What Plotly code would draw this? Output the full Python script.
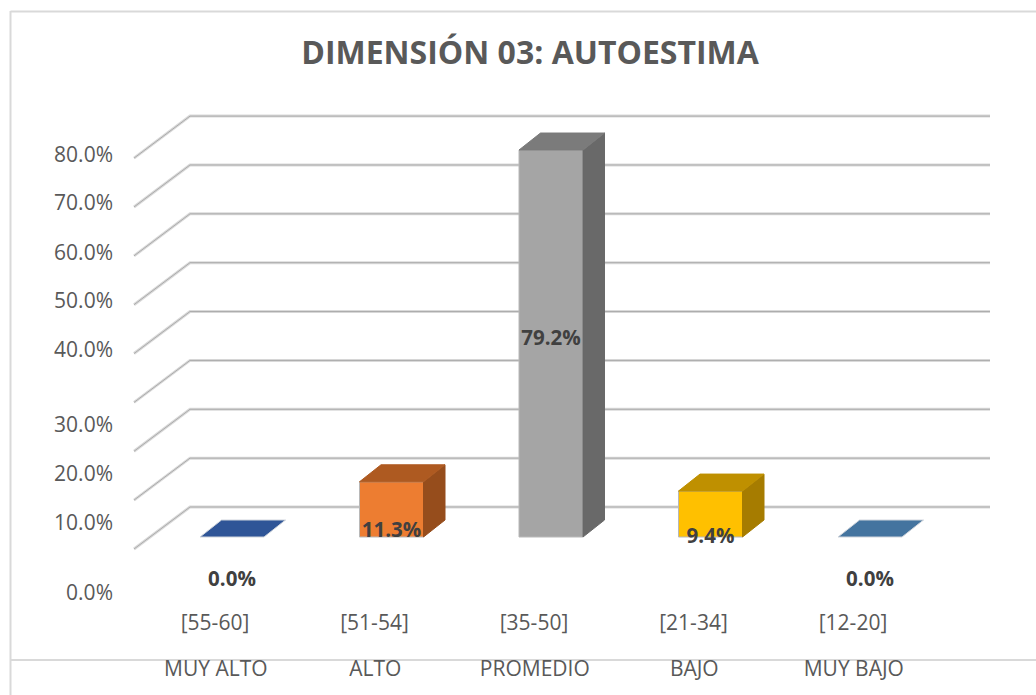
import plotly.graph_objects as go

# ---- data ----
categories = ["MUY ALTO", "ALTO", "PROMEDIO", "BAJO", "MUY BAJO"]
ranges = ["[55-60]", "[51-54]", "[35-50]", "[21-34]", "[12-20]"]
values = [0.0, 11.3, 79.2, 9.4, 0.0]
value_labels = ["0.0%", "11.3%", "79.2%", "9.4%", "0.0%"]
grid_values = [0, 10, 20, 30, 40, 50, 60, 70, 80]
tick_labels = ["80.0%", "70.0%", "60.0%", "50.0%", "40.0%", "30.0%", "20.0%", "10.0%", "0.0%"]

# ---- placement of labels (in axis units) ----
tick_label_y = [77.9, 67.9, 57.8, 48.0, 38.0, 22.6, 12.6, 2.6, -11.75]
value_label_y = [-9.0, 1.03, 40.3, -0.2, -9.0]

# ---- styling ----
front_colors = ["#2F5597", "#ED7D31", "#A5A5A5", "#FFC000", "#44749F"]
top_colors = ["#2F5597", "#AE5A21", "#7B7B7B", "#BF9000", "#44749F"]
side_colors = ["#2F5597", "#964D1C", "#696969", "#A67C00", "#44749F"]

W, H = 1036, 695
X_UNIT, X0 = 159.5, 232.0   # pixels per category, pixel of first category
Y_UNIT, Y0 = 4.886, 537.0   # pixels per percent, pixel of value 0
BAR_W = 64 / X_UNIT
DX, DY = 21.5 / X_UNIT, 17 / Y_UNIT        # bar depth
WALL_X0, WALL_X1 = (190 - X0) / X_UNIT, (990 - X0) / X_UNIT
WALL_DX = 56 / X_UNIT
WALL_BACK = 30 / Y_UNIT
WALL_FRONT = -12 / Y_UNIT

fig = go.Figure()


def poly(xs, ys, fill, edge):
    fig.add_trace(go.Scatter(
        x=xs + xs[:1], y=ys + ys[:1], mode="lines", fill="toself",
        fillcolor=fill, line=dict(color=edge, width=1), hoverinfo="skip"))


def grid(xs, ys, color, width):
    fig.add_trace(go.Scatter(x=xs, y=ys, mode="lines",
                             line=dict(color=color, width=width), hoverinfo="skip"))


for v in grid_values:
    xs = [WALL_X0 - WALL_DX, WALL_X0, WALL_X1]
    ys = [v + WALL_FRONT, v + WALL_BACK, v + WALL_BACK]
    grid(xs, ys, "#DADADA", 3)
    grid(xs, ys, "#ABABAB", 1)

for i, v in enumerate(values):
    x0, x1 = i - BAR_W / 2, i + BAR_W / 2
    if v > 0:
        poly([x0, x1, x1, x0], [0, 0, v, v], front_colors[i], "#B8B8B8")
        poly([x1, x1 + DX, x1 + DX, x1], [0, DY, v + DY, v], side_colors[i], side_colors[i])
    poly([x0, x1, x1 + DX, x0 + DX], [v, v, v + DY, v + DY], top_colors[i], "#D0D5DC" if v == 0 else top_colors[i])

font = "Open Sans"
fig.add_trace(go.Scatter(
    x=list(range(len(values))), y=value_label_y,
    text=value_labels, mode="text", textposition="middle center",
    textfont=dict(family=font, size=20.5, color="#404040", weight="bold"), hoverinfo="skip"))
fig.add_trace(go.Scatter(
    x=[(113 - X0) / X_UNIT] * len(tick_labels), y=tick_label_y, text=tick_labels,
    mode="text", textposition="middle left",
    textfont=dict(family=font, size=21, color="#595959"), hoverinfo="skip"))
fig.add_trace(go.Scatter(
    x=[i - 17 / X_UNIT for i in range(len(ranges))], y=[(Y0 - 625) / Y_UNIT] * len(ranges),
    text=ranges, mode="text", textposition="middle center",
    textfont=dict(family=font, size=21, color="#595959"), hoverinfo="skip"))
fig.add_trace(go.Scatter(
    x=[i - 17 / X_UNIT + 0.005 for i in range(len(categories))], y=[(Y0 - 671) / Y_UNIT] * len(categories),
    text=categories, mode="text", textposition="middle center",
    textfont=dict(family=font, size=21, color="#595959"), hoverinfo="skip"))

frame = dict(color="#D9D9D9", width=2)
fig.update_layout(
    width=W, height=H, autosize=False,
    margin=dict(l=0, r=0, t=0, b=0),
    paper_bgcolor="white", plot_bgcolor="rgba(0,0,0,0)", showlegend=False,
    title=dict(text="<b>DIMENSIÓN 03: AUTOESTIMA</b>", x=530 / W, xanchor="center",
               y=1 - 53 / H, yanchor="middle",
               font=dict(family=font, size=32, color="#595959")),
    xaxis=dict(range=[(0 - X0) / X_UNIT, (W - X0) / X_UNIT], visible=False, fixedrange=True),
    yaxis=dict(range=[(Y0 - H) / Y_UNIT, Y0 / Y_UNIT], visible=False, fixedrange=True),
    shapes=[
        dict(type="line", xref="paper", yref="paper", layer="below", x0=10.5 / W, x1=10.5 / W, y0=0, y1=1 - 11 / H, line=frame),
        dict(type="line", xref="paper", yref="paper", layer="below", x0=10.5 / W, x1=1, y0=1 - 11.5 / H, y1=1 - 11.5 / H, line=frame),
        dict(type="line", xref="paper", yref="paper", layer="below", x0=10.5 / W, x1=1, y0=1 - 660 / H, y1=1 - 660 / H, line=frame),
    ],
)
fig.write_html("out.html", config=dict(displayModeBar=False),
               post_script="document.documentElement.style.overflow='hidden';document.body.style.margin='0';")
